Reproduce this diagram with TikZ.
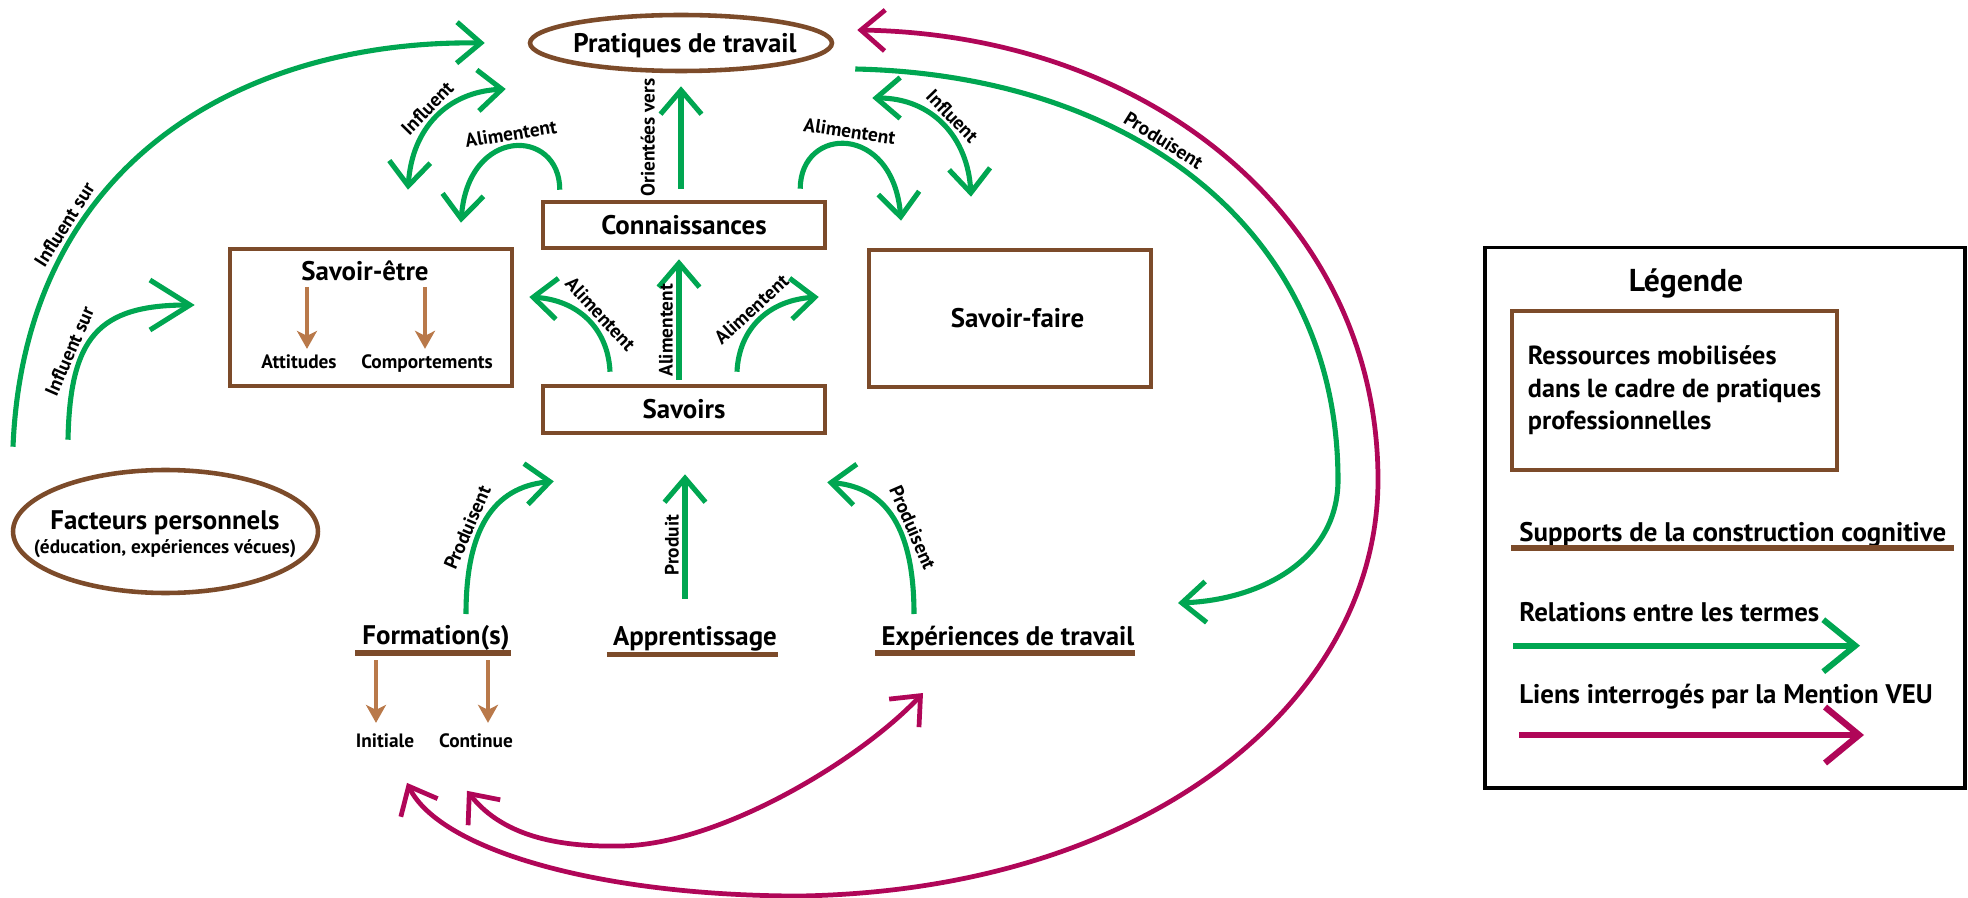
\documentclass[tikz,border=0pt]{standalone}
\usepackage{fontspec}
\setmainfont{PT Sans}
\usetikzlibrary{arrows.meta, shapes.geometric, calc}

\definecolor{brun}{RGB}{124,75,42}
\definecolor{brunclair}{RGB}{185,121,74}
\definecolor{vert}{RGB}{0,166,81}
\definecolor{veumag}{RGB}{176,6,88}

\tikzset{
  chev/.tip={Straight Barb[length=0.48cm, width=0.82cm]},
  grandchev/.tip={Straight Barb[length=0.8cm, width=1.0cm]},
  titre/.style={font=\fontsize{15.3}{17}\selectfont\bfseries},
  sous/.style={font=\fontsize{11}{13}\selectfont\bfseries, inner sep=0pt},
  etiq/.style={font=\fontsize{11}{13}\selectfont\bfseries, inner sep=2pt, sloped, above},
  ressource/.style={draw=brun, line width=2.6pt, titre, inner sep=0pt},
  cadre/.style={ellipse, draw=brun, line width=2.6pt, inner sep=0pt},
  support/.style={titre, anchor=base, inner sep=0pt},
  trait/.style={draw=brun, line width=3pt},
  relation/.style={draw=vert, line width=2.9pt, -chev},
  lien/.style={draw=veumag, line width=2.7pt, chev-chev},
  sousfleche/.style={draw=brunclair, line width=2.3pt, -{Stealth[length=0.36cm, width=0.4cm, inset=0.1cm]}},
  legtexte/.style={font=\fontsize{15.3}{20}\selectfont\bfseries, anchor=base west, inner sep=0pt}
}

\begin{document}
\begin{tikzpicture}[x=0.02cm, y=-0.02cm]
    \useasboundingbox (0,0) rectangle (1968,898);

    % Ressources mobilisees
    \node[cadre, minimum width=6.04cm, minimum height=1.12cm] (prat) at (681,43) {};
    \node[titre, anchor=base] (prattxt) at (685,53) {Pratiques de travail};
    \node[ressource, minimum width=5.64cm, minimum height=0.92cm] (conn) at (684,225) {Connaissances};
    \node[ressource, minimum width=5.64cm, minimum height=0.94cm] (sav) at (684,409.5) {Savoirs};
    \node[ressource, minimum width=5.64cm, minimum height=2.74cm] (sfaire) at (1010,318.5) {\hspace*{0.3cm}Savoir-faire};
    \node[ressource, minimum width=5.64cm, minimum height=2.74cm] (setre) at (371,317.5) {};
    \node[titre, anchor=base] (setretxt) at (365,281) {Savoir-être};
    \node[sous, anchor=base] (att) at (299,369) {Attitudes};
    \node[sous, anchor=base] (comp) at (427,369) {Comportements};
    \draw[sousfleche] ($(setretxt.base)+(-58,6)$) -- ($(att.north)+(8,-6)$);
    \draw[sousfleche] ($(setretxt.base)+(60,6)$) -- ($(comp.north)+(-2,-6)$);

    % Facteurs personnels
    \node[cadre, minimum width=6.1cm, minimum height=2.46cm] (fact) at (165.5,531.5) {};
    \node[titre, anchor=base] (facttitre) at (165,529) {Facteurs personnels};
    \node[sous, anchor=base] (factsous) at (165,553) {(éducation, expériences vécues)};

    % Supports de la construction cognitive
    \node[support] (form) at (436,644) {Formation(s)};
    \node[support] (appr) at (695,645.7) {Apprentissage};
    \node[support] (exp) at (1008,645) {Expériences de travail};
    \draw[trait] ($(form.base west)+(-7,9)$) -- ($(form.base east)+(1,9)$);
    \draw[trait] ($(appr.base west)+(-6,8.5)$) -- ($(appr.base east)+(1,8.5)$);
    \draw[trait] ($(exp.base west)+(-6,8)$) -- ($(exp.base east)+(0,8)$);
    \node[sous, anchor=base] (init) at (385,747) {Initiale};
    \node[sous, anchor=base] (cont) at (476,747) {Continue};
    \draw[sousfleche] ($(form.base)+(-60,16)$) -- ($(init.north)+(-9,-10)$);
    \draw[sousfleche] ($(form.base)+(52,16)$) -- ($(cont.north)+(12,-10)$);

    % Relations entre les termes
    \draw[relation] ($(sav.north)+(-5,-4)$) -- ($(conn.south)+(-5,9)$) node[etiq, pos=0.41] {Alimentent};
    \draw[relation] ($(conn.north)+(-3,-11)$) -- ($(prat.south)+(0,13)$) node[etiq, pos=0.5, above=0.4cm] {Orientées vers};
    \draw[relation] ($(appr.base)+(-10,-47)$) -- ($(sav.south)+(1,39)$) node[etiq, pos=0.43] {Produit};
    \draw[relation] ($(sav.north)+(-74,-12)$) .. controls +(-2,-44) and +(48,3) .. ($(setre.east)+(15,-20.5)$) node[etiq, pos=0.45] {Alimentent};
    \draw[relation] ($(sav.north)+(53,-12)$) .. controls +(2,-44) and +(-49,3) .. ($(sfaire.west)+(-48,-21.5)$) node[etiq, pos=0.5] {Alimentent};
    \draw[relation] ($(conn.north west)+(19,-10)$) .. controls +(0,-62) and +(7,-97) .. ($(setre.north)+(90,-24)$) node[etiq, pos=0.5] {Alimentent};
    \draw[relation] ($(conn.north east)+(-27,-11)$) .. controls +(0,-63) and +(-8,-98) .. ($(sfaire.north)+(-109,-27)$) node[etiq, pos=0.5] {Alimentent};
    \draw[relation, chev-chev] ($(setre.north)+(37,-57)$) .. controls +(4,-62) and +(-58,3) .. ($(prat.west)+(-22,46)$) node[etiq, pos=0.5] {Influent};
    \draw[relation, chev-chev] ($(prat.east)+(38,55)$) .. controls +(60,0) and +(-3,-59) .. ($(sfaire.north)+(-39,-51)$) node[etiq, pos=0.5] {Influent};
    \draw[relation] ($(fact.north)+(-152.5,-21)$) .. controls +(12,-289) and +(-237,-3) .. ($(prat.west)+(-43,0)$) node[etiq, pos=0.3] {Influent sur};
    \draw[relation, -grandchev] ($(fact.north)+(-97.5,-28)$) .. controls +(2,-102) and +(-97,0) .. ($(setre.west)+(-33,-12.5)$) node[etiq, pos=0.35] {Influent sur};
    \draw[relation] ($(form.base)+(30,-30)$) .. controls +(0,-84) and +(-61,6) .. ($(sav.south west)+(13,46)$) node[etiq, pos=0.4] {Produisent};
    \draw[relation] ($(exp.base)+(-94,-31)$) .. controls +(0,-84) and +(60,5) .. ($(sav.south east)+(0,47)$) node[etiq, pos=0.4] {Produisent};
    \draw[relation] ($(prat.east)+(21,26)$) .. controls +(277,6) and +(0,-250) .. (1338,480) node[etiq, pos=0.42] {Produisent}
        .. controls +(0,80) and +(82,-3) .. ($(exp.base)+(170,-42)$);

    % Liens interroges par la Mention VEU
    \draw[lien] ($(prat.east)+(23,-13)$) .. controls +(295,5) and +(0,-260) .. (1378,480)
        .. controls +(0,220) and +(350,-6) .. (800,896)
        .. controls +(-200,0) and +(33,67) .. ($(init.north)+(22,50)$);
    \draw[lien] ($(cont.north)+(-9,58)$) .. controls +(38,48) and +(-55,1) .. (620,846)
        .. controls +(100,-1) and +(-63,67) .. ($(exp.base)+(-85,48)$);

    % Legende
    \node[draw, line width=1.9pt, minimum width=9.6cm, minimum height=10.81cm] (leg) at (1725,517.75) {};
    \node[font=\fontsize{18}{20}\selectfont\bfseries, anchor=base, inner sep=0pt] (legtitre) at (1686,292) {Légende};
    \node[ressource, minimum width=6.5cm, minimum height=3.18cm, align=left, inner xsep=0.25cm,
          font=\fontsize{14.9}{18.4}\selectfont\bfseries] (legres) at (1674.5,390.5) {Ressources mobilisées\\dans le cadre de pratiques\\professionnelles};
    \node[legtexte] (legsup) at (1519,541) {Supports de la construction cognitive};
    \draw[trait] ($(legsup.base west)+(-8,7)$) -- ($(legsup.base east)+(8,7)$);
    \node[legtexte] (legrel) at (1519,621.7) {Relations entre les termes};
    \draw[relation, line width=3.4pt, -{Straight Barb[length=0.64cm, width=1.04cm]}] ($(legrel.base west)+(-6,24)$) -- ($(legrel.base west)+(341,24)$);
    \node[legtexte] (legveu) at (1519,703) {Liens interrogés par la Mention VEU};
    \draw[lien, line width=3.6pt, -{Straight Barb[length=0.68cm, width=1.12cm]}] ($(legveu.base west)+(0,32)$) -- ($(legveu.base west)+(345,32)$);

\end{tikzpicture}
\end{document}
